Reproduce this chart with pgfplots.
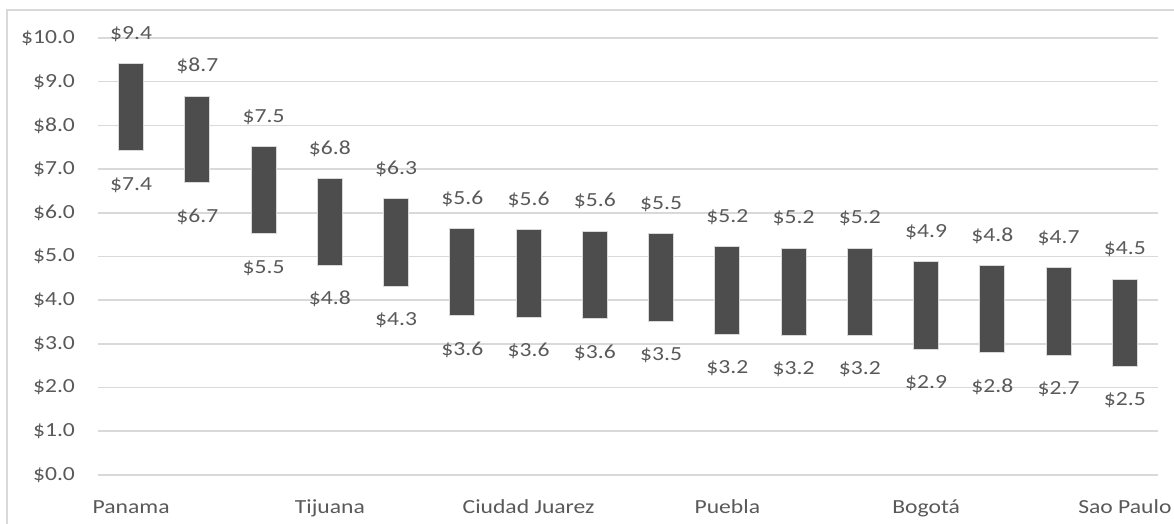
\documentclass[border=0pt]{standalone}
\usepackage{fontspec}
\setmainfont{Carlito}[FakeStretch=1.18]
\usepackage{pgfplots}
\usepackage{pgfplotstable}
\pgfplotsset{compat=1.18}
\definecolor{txt}{HTML}{595959}
\definecolor{gridc}{HTML}{D9D9D9}
\definecolor{barc}{HTML}{4D4D4D}
\pgfplotstableread{
x lo hi
0 7.42 9.41
1 6.69 8.67
2 5.52 7.51
3 4.80 6.78
4 4.32 6.32
5 3.64 5.64
6 3.61 5.61
7 3.58 5.58
8 3.52 5.52
9 3.22 5.22
10 3.19 5.19
11 3.19 5.19
12 2.88 4.88
13 2.80 4.79
14 2.74 4.74
15 2.48 4.48
}\data
\pgfplotsset{geom/.style={
  at={(49pt,24.5pt)}, anchor=south west,
  scale only axis, width=530pt, height=218.5pt,
  xmin=-0.5, xmax=15.5, ymin=0, ymax=10, clip=false}}
\begin{document}
\begin{tikzpicture}[x=1pt,y=1pt]
\path[use as bounding box] (0,0) rectangle (587,262);
\draw[gridc, line width=0.8pt] (3.5,-5) -- (3.5,257) -- (595,257);
\begin{axis}[
  geom,
  ybar stacked, bar width=12.5pt,
  axis line style={draw=none},
  major tick length=0pt,
  ymajorgrids, grid style={gridc, line width=0.8pt},
  ytick={0,1,...,10},
  xtick={0,3,6,9,12,15},
  xticklabels={Panama,Tijuana,Ciudad Juarez,Puebla,Bogotá,Sao Paulo},
  yticklabel={\$\pgfmathprintnumber[fixed,fixed zerofill,precision=1]{\tick}},
  /pgf/number format/assume math mode=true,
  tick label style={font=\fontsize{10}{11}\selectfont, text=txt},
  y tick label style={xshift=-8pt},
  x tick label style={anchor=base, yshift=-19.5pt},
]
\addplot[draw=none, fill=none] table[x=x, y=lo] {\data};
\addplot[fill=barc, draw=gridc, line width=0.5pt]
  table[x=x, y expr=\thisrow{hi}-\thisrow{lo}] {\data};
\end{axis}
\begin{axis}[
  geom, hide axis,
  point meta=explicit,
  /pgf/number format/assume math mode=true,
  nodes near coords={\$\pgfmathprintnumber[fixed,fixed zerofill,precision=1]{\pgfplotspointmeta}},
  nodes near coords style={font=\fontsize{10}{11}\selectfont, text=txt, anchor=center},
]
\addplot[draw=none, mark=none, every node near coord/.append style={yshift=-17pt}]
  table[x=x, y=lo, meta=lo] {\data};
\addplot[draw=none, mark=none, every node near coord/.append style={yshift=15pt}]
  table[x=x, y=hi, meta=hi] {\data};
\end{axis}
\end{tikzpicture}
\end{document}
